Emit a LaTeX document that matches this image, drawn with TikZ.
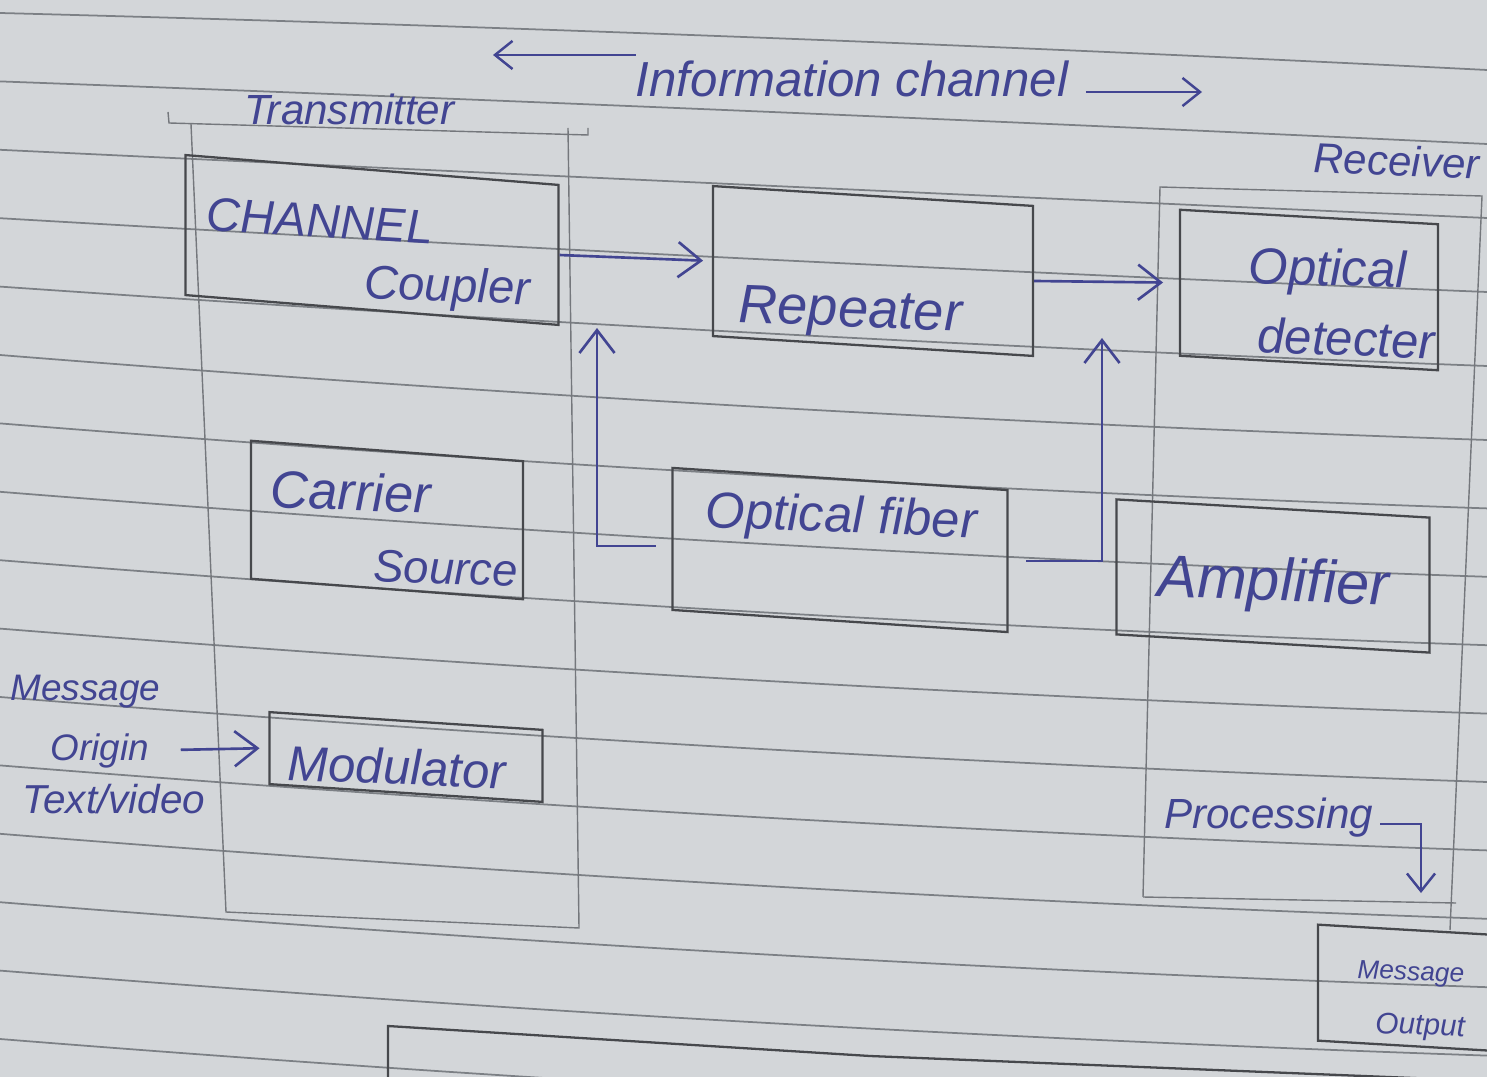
\documentclass[tikz,border=0pt]{standalone}
\usepackage{fontspec}
\setmainfont{Liberation Sans}
\usetikzlibrary{arrows.meta}
\definecolor{paper}{HTML}{D3D6D9}
\definecolor{rulec}{HTML}{7C8085}
\definecolor{ink}{HTML}{424592}
\definecolor{pencil}{HTML}{46484C}
\definecolor{faint}{HTML}{74777C}
\newcommand\hsz[1]{\fontsize{#1}{#1}\selectfont}
\begin{document}
\begin{tikzpicture}[x=0.02cm,y=-0.02cm,
  box/.style={draw=pencil,line width=1.3pt,inner sep=0pt,rectangle},
  txt/.style={text=ink,inner sep=0pt,anchor=base west},
  arr/.style={draw=ink,line width=1.5pt,-{Straight Barb[length=13pt,width=20pt]}},
  sarr/.style={draw=ink,line width=1.4pt,-{Straight Barb[length=10pt,width=16pt]}},
  ruled/.style={draw=rulec,line width=1pt},
  encl/.style={draw=faint,line width=0.8pt}]
\fill[paper] (0,0) rectangle (1487,1077);
\useasboundingbox (0,0) rectangle (1487,1077);
\clip (0,0) rectangle (1487,1077);
% ruled paper lines
\foreach \k in {0,...,15}{
  \pgfmathsetmacro\yl{13+68.4*\k}
  \pgfmathsetmacro\mm{min(24+5.4*\k,51)}
  \pgfmathsetmacro\dd{min(57+5.6*\k,85)}
  \pgfmathsetmacro\cc{(4*\mm-\dd)/2}
  \pgfmathsetmacro\ya{\yl+2*\cc/3}
  \pgfmathsetmacro\yb{\yl+\dd+2*(\cc-\dd)/3}
  \pgfmathsetmacro\ye{\yl+\dd}
  \draw[ruled] (0,\yl) .. controls (495.7,\ya) and (991.3,\yb) .. (1487,\ye);
}
% enclosures
\draw[encl] (168,112) -- (169,123) -- (588,135) -- (588,128);
\draw[encl] (191,124) -- (226,912) -- (579,928) -- (568,128);
\draw[encl] (1143,897) -- (1160,187) -- (1482,196) -- (1450,930);
\draw[encl] (1143,897) -- (1456,903);
% boxes
\node[box,minimum width=373*0.02cm,minimum height=140*0.02cm,yslant=-0.08] (coupler) at (372,240) {};
\node[box,minimum width=320*0.02cm,minimum height=150*0.02cm,yslant=-0.062] (repeater) at (873,271) {};
\node[box,minimum width=258*0.02cm,minimum height=146*0.02cm,yslant=-0.056] (detector) at (1309,290) {};
\node[box,minimum width=272*0.02cm,minimum height=138*0.02cm,yslant=-0.075] (carrier) at (387,520) {};
\node[box,minimum width=335*0.02cm,minimum height=142*0.02cm,yslant=-0.066] (fiber) at (840,550) {};
\node[box,minimum width=313*0.02cm,minimum height=135*0.02cm,yslant=-0.058] (amp) at (1273,576) {};
\node[box,minimum width=273*0.02cm,minimum height=72*0.02cm,yslant=-0.065] (modulator) at (406,757) {};
\node[box,minimum width=184*0.02cm,minimum height=116*0.02cm,yslant=-0.058] (msgout) at (1410,988) {};
\draw[box] (388,1085) -- (388,1026) -- (870,1056) -- (1487,1081);
% texts
\node[txt,font=\itshape\hsz{24}] (ttrans) at (244,125) {Transmitter};
\node[txt,font=\itshape\hsz{28},anchor=base] (info) at (852,97) {Information channel};
\node[txt,font=\itshape\hsz{24},yslant=-0.045] (trecv) at (1313,172) {Receiver};
\node[txt,font=\itshape\hsz{27},yslant=-0.06] (t1) at (206,230) {CHANNEL};
\node[txt,font=\itshape\hsz{27},yslant=-0.04] (t2) at (364,298) {Coupler};
\node[txt,font=\itshape\hsz{31},yslant=-0.04] (t3) at (738,322) {Repeater};
\node[txt,font=\itshape\hsz{29},yslant=-0.03] (t4) at (1248,283) {Optical};
\node[txt,font=\itshape\hsz{28},yslant=-0.04] (t5) at (1257,352) {detecter};
\node[txt,font=\itshape\hsz{30},yslant=-0.04] (t6) at (270,507) {Carrier};
\node[txt,font=\itshape\hsz{26},yslant=-0.04] (t7) at (373,581) {Source};
\node[txt,font=\itshape\hsz{29},yslant=-0.04] (t8) at (705,527) {Optical fiber};
\node[txt,font=\itshape\hsz{34},yslant=-0.04] (t9) at (1157,596) {Amplifier};
\node[txt,font=\itshape\hsz{28},yslant=-0.04] (t10) at (287,780) {Modulator};
\node[txt,font=\itshape\hsz{21}] (msg) at (10,700) {Message};
\node[txt,font=\itshape\hsz{21}] (origin) at (50,760) {Origin};
\node[txt,font=\itshape\hsz{23}] (tv) at (22,813) {Text/video};
\node[txt,font=\itshape\hsz{24}] (proc) at (1164,828) {Processing};
\node[txt,font=\itshape\hsz{15},yslant=-0.04] (t11) at (1357,978) {Message};
\node[txt,font=\itshape\hsz{17},yslant=-0.04] (t12) at (1375,1033) {Output};
% free ends
\coordinate (infoL) at (493,55);
\coordinate (infoR) at (1202,92);
\coordinate (up1) at (597,328);
\coordinate (up2) at (1102,338);
\coordinate (down1) at (1421,893);
% connectors
\draw[sarr] (info.west |- infoL) -- (infoL);
\draw[sarr,shorten <=10pt] (info.east |- infoR) -- (infoR);
\draw[arr,shorten >=5pt] (coupler.east) -- (repeater.west);
\draw[arr,shorten >=9pt] (repeater.east) -- (detector.west);
\draw[arr] ([xshift=-9pt,yshift=-4pt]fiber.west) -| (up1);
\draw[arr] ([xshift=10pt]fiber.east) -| (up2);
\draw[arr,shorten <=18pt,shorten >=5pt] (origin.east) -- (modulator.west);
\draw[sarr] ([xshift=4pt,yshift=-4pt]proc.east) -| (down1);
\end{tikzpicture}
\end{document}
